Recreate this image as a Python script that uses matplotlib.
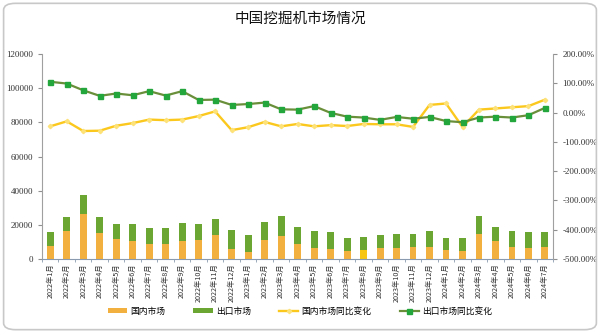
import numpy as np
import matplotlib
matplotlib.use('Agg')
import matplotlib.pyplot as plt
from matplotlib.patches import FancyBboxPatch
from matplotlib.ticker import FuncFormatter

plt.rcParams['font.family'] = ['Liberation Serif', 'Noto Sans CJK SC', 'DejaVu Sans']

# months 2022-01 .. 2024-07
months = ['%d年%d月' % (y, m) for y in (2022, 2023, 2024) for m in range(1, 13)][:31]

# unit sales
domestic = [7900, 16700, 26200, 15500, 11800, 10300, 9100, 8700, 10300, 11200, 14000, 5800,
            4100, 11400, 13400, 8900, 6400, 6000, 4800, 5400, 6200, 6200, 6800, 7300,
            5200, 5000, 14800, 10700, 7300, 6600, 6800]
total = [15700, 24500, 37300, 24700, 20800, 20500, 18100, 18100, 21300, 20500, 23700, 17100,
         13800, 21600, 25400, 18800, 16700, 15700, 12400, 12800, 14300, 14600, 14900, 16700,
         12400, 12400, 25100, 18800, 16300, 16100, 16100]
export = [t - d for t, d in zip(total, domestic)]

# year-on-year change, %
domestic_yoy = [-47, -30, -63, -62, -45, -36, -24, -26, -24, -12, 4, -60,
                -50, -32, -47, -39, -47, -43, -46, -39, -40, -40, -49, 26,
                31, -49, 10, 14, 18, 22, 44]
export_yoy = [105, 99, 76, 57, 65, 59, 73, 58, 73, 43, 44, 26,
              29, 34, 11, 10, 22, -1, -14, -17, -25, -15, -21, -15,
              -29, -33, -17, -14, -17, -9, 16]

x = np.arange(len(months))

fig = plt.figure(figsize=(6, 3.33), dpi=100)
fig.patch.set_facecolor('white')
# rounded outer frame
frame = FancyBboxPatch((0.006, 0.01), 0.988, 0.98, boxstyle='round,pad=0,rounding_size=0.02',
                       transform=fig.transFigure, facecolor='none', edgecolor='#c8c8c8',
                       linewidth=1.2)
fig.patches.append(frame)

ax = fig.add_axes([0.07, 0.222, 0.852, 0.616])
ax.patch.set_alpha(0)

dom_colors = ['#f2b13e'] * len(months)
dom_colors[19] = '#f7c615'  # 2023-08 segment is drawn brighter
b1 = ax.bar(x, domestic, width=0.42, color=dom_colors, zorder=2)
b2 = ax.bar(x, export, width=0.42, bottom=domestic, color='#6ba632', zorder=2)

ax.set_xlim(-0.5, len(months) - 0.5)
ax.set_ylim(0, 120000)
ax.set_yticks(np.arange(0, 120001, 20000))
ax.set_xticks(x)
ax.set_xticklabels(months, rotation=90, fontsize=5.2, family=['Noto Sans CJK SC'])
ax.set_xticks(np.arange(-0.5, len(months), 1), minor=True)
ax.tick_params(axis='x', which='major', length=0, pad=3, colors='#333333')
ax.tick_params(axis='x', which='minor', length=2, color='#8a9bb0')
ax.tick_params(axis='y', labelsize=6.5, length=3, color='#909090', colors='#333333')
for s in ('top', 'right'):
    ax.spines[s].set_visible(False)
ax.spines['left'].set_color('#a0a0a0')
ax.spines['bottom'].set_color('#8a9bb0')

ax2 = ax.twinx()
ax2.set_ylim(-500, 200)
ax2.set_yticks(np.arange(-500, 201, 100))
ax2.yaxis.set_major_formatter(FuncFormatter(lambda v, p: '%.2f%%' % v))
ax2.tick_params(axis='y', labelsize=6.5, length=3, color='#909090', colors='#333333')
for s in ('top', 'left', 'bottom'):
    ax2.spines[s].set_visible(False)
ax2.spines['right'].set_color('#a0a0a0')

l1, = ax2.plot(x, domestic_yoy, color='#fbc81e', lw=1.7, marker='D', ms=2.2,
               mfc='#fde27a', mec='#fde27a', zorder=3)
l2, = ax2.plot(x, export_yoy, color='#6a8f3a', lw=1.6, marker='s', ms=3.6,
               mfc='#23a63c', mec='#23a63c', zorder=4)

fig.text(0.5, 0.945, '中国挖掘机市场情况', ha='center', va='center', fontsize=10.5,
         family=['Noto Sans CJK SC'], fontweight='medium', color='#111111')

fig.legend([b1, b2, l1, l2], ['国内市场', '出口市场', '国内市场同比变化', '出口市场同比变化'],
           loc='center', bbox_to_anchor=(0.5, 0.066), ncol=4, frameon=False,
           prop={'family': 'Noto Sans CJK SC', 'size': 6.3}, handlelength=2.2,
           handleheight=0.6, columnspacing=3.2, handletextpad=0.4)

fig.savefig('out.png', dpi=100, facecolor='white')
